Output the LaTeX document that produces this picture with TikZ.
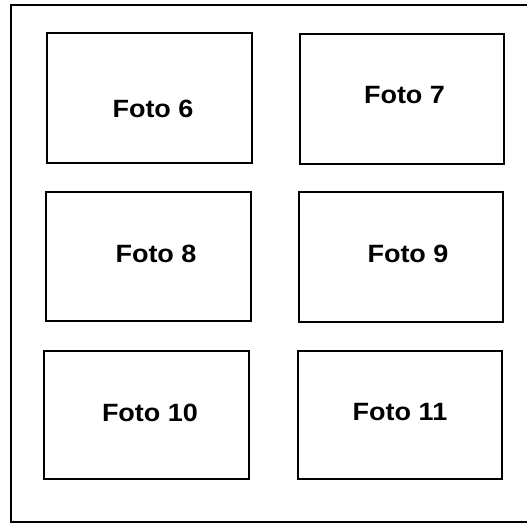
\documentclass[tikz,border=0pt]{standalone}
\usepackage{fontspec}
\setmainfont{Liberation Sans}[FakeStretch=1.08]
\begin{document}
\begin{tikzpicture}[x=1pt,y=-1pt,
  photobox/.style={draw=black,line width=2.4pt,inner sep=0pt},
  caption/.style={font=\fontsize{25}{30}\selectfont\bfseries,anchor=base,inner sep=0pt},
  frameline/.style={draw=black,line width=2pt}]
\useasboundingbox (0,0) rectangle (527,523);
\coordinate (ftr) at (527,5);
\coordinate (ftl) at (11,5);
\coordinate (fbl) at (11,522);
\coordinate (fbr) at (527,522);
\draw[frameline] (ftr) -- (ftl) -- (fbl) -- (fbr);
\node[photobox,fit/.style={},minimum width=205pt,minimum height=130pt] (b6) at (149.5,98) {};
\node[photobox,minimum width=204pt,minimum height=130pt] (b7) at (402,99) {};
\node[photobox,minimum width=205pt,minimum height=129pt] (b8) at (148.5,256.5) {};
\node[photobox,minimum width=204pt,minimum height=130pt] (b9) at (401,257) {};
\node[photobox,minimum width=205pt,minimum height=128pt] (b10) at (146.5,415) {};
\node[photobox,minimum width=204pt,minimum height=128pt] (b11) at (400,415) {};
\node[caption] (t6) at (153,117) {Foto 6};
\node[caption] (t7) at (404.5,103) {Foto 7};
\node[caption] (t8) at (156,262) {Foto 8};
\node[caption] (t9) at (408,262) {Foto 9};
\node[caption] (t10) at (150,421) {Foto 10};
\node[caption] (t11) at (400,420) {Foto 11};
\end{tikzpicture}
\end{document}
